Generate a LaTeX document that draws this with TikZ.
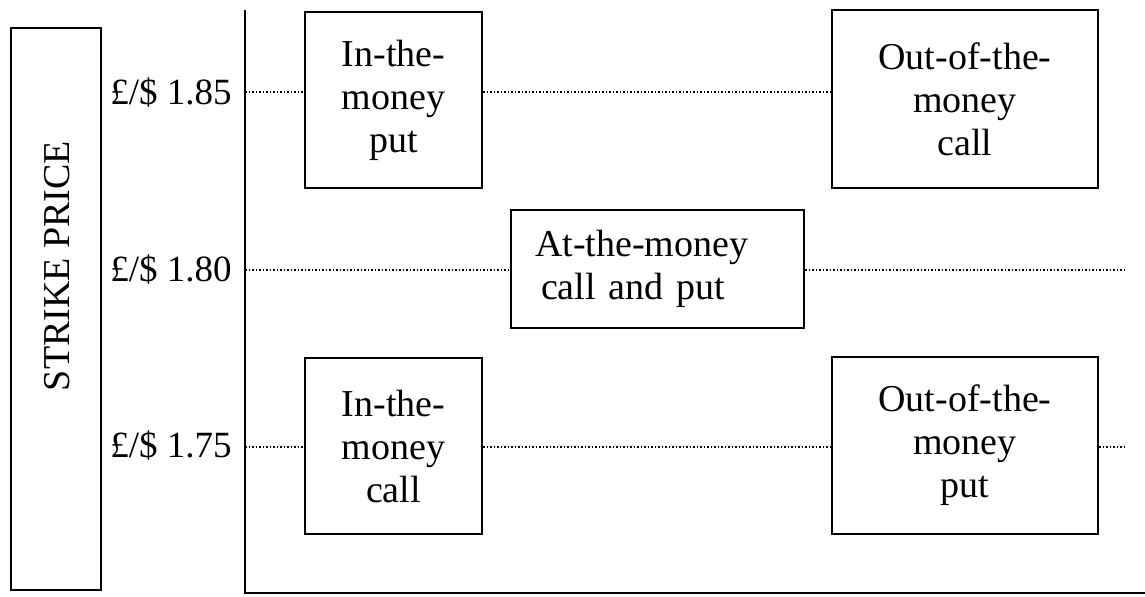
\documentclass[tikz,border=0pt]{standalone}
\usepackage{fontspec}
\setmainfont{Liberation Serif}
\usetikzlibrary{positioning}
\tikzset{
    %Define style for boxes
    boks/.style={
           rectangle,
           draw=black,
           line width=1pt,
           inner sep=0pt,
           align=center,
           font=\fontsize{19}{21.5}\selectfont},
    %Define style for price labels
    pris/.style={
           anchor=east,
           inner sep=0pt,
           font=\fontsize{18.5}{21}\selectfont},
    % Define dotted line style
    prikk/.style={
           densely dotted,
           line width=0.75pt}
}
\begin{document}
\begin{tikzpicture}[x=0.5pt, y=-0.5pt]
  \useasboundingbox (0,0) rectangle (1145,596);
  % axis
  \coordinate (topp) at (245,10);
  \coordinate (origo) at (245,593);
  \coordinate (hoyre) at (1145,593);
  \draw[line width=1.2pt] (topp) -- (origo) -- (hoyre);
  % strike price box
  \node[draw, line width=1pt, minimum width=45pt, minimum height=281pt] (strikeboks) at (56,309) {};
  \node[rotate=90, inner sep=0pt, font=\fontsize{19}{21}\selectfont] (strike) at (57,266) {STRIKE PRICE};
  % price labels
  \node[pris] (p85) at (232,93) {£/\$ 1.85};
  \node[pris] (p80) at (232,270) {£/\$ 1.80};
  \node[pris] (p75) at (232,445) {£/\$ 1.75};
  \coordinate (a85) at (245,92);
  \coordinate (a80) at (245,270);
  \coordinate (a75) at (245,447);
  \coordinate (e80) at (1125,270);
  \coordinate (e75) at (1125,447);
  % option boxes
  \node[boks, minimum width=88.5pt, minimum height=88pt] (itmput) at (393.5,100) {In-the-\\money\\put};
  \node[boks, minimum width=133pt, minimum height=89pt] (otmcall) at (965,99) {Out-of-the-\\money\\call};
  \node[boks, align=left, text width=122.5pt, minimum width=146.5pt, minimum height=59pt] (atm) at (657.5,269) {At-the-money\\\hspace*{3pt}call and put};
  \node[boks, minimum width=88.5pt, minimum height=88pt] (itmcall) at (393.5,446) {In-the-\\money\\call};
  \node[boks, minimum width=133pt, minimum height=88.5pt] (otmput) at (965,445.5) {Out-of-the-\\money\\put};
  % dotted lines
  \draw[prikk] (a85) -- (itmput.west |- a85);
  \draw[prikk] (itmput.east |- a85) -- (otmcall.west |- a85);
  \draw[prikk] (a80) -- (atm.west |- a80);
  \draw[prikk] (atm.east |- a80) -- (e80);
  \draw[prikk] (a75) -- (itmcall.west |- a75);
  \draw[prikk] (itmcall.east |- a75) -- (otmput.west |- a75);
  \draw[prikk] (otmput.east |- a75) -- (e75);
\end{tikzpicture}
\end{document}
